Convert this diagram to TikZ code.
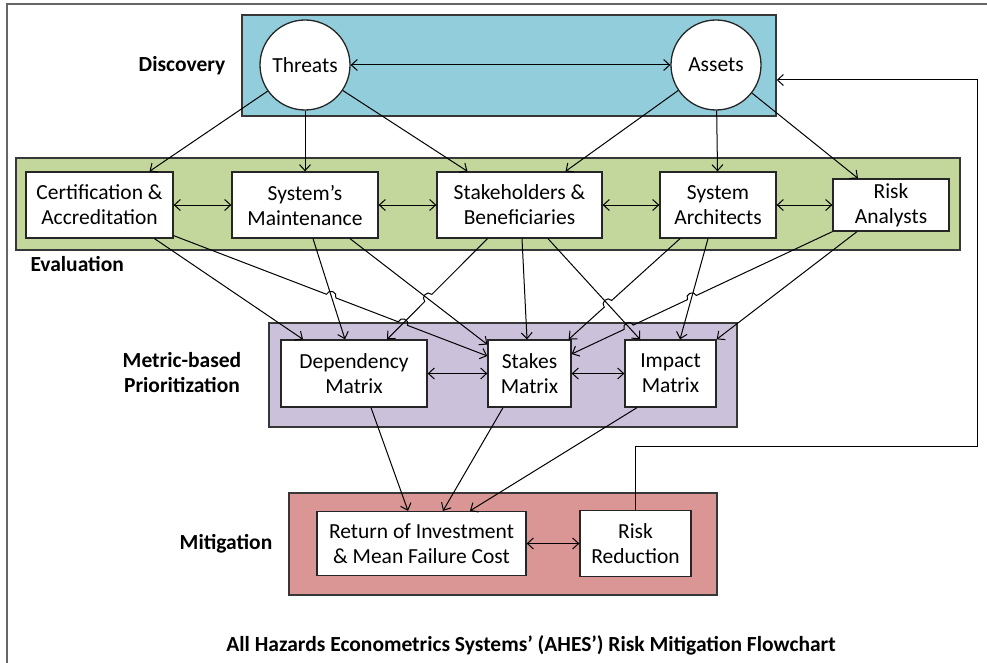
\documentclass[tikz,border=0pt]{standalone}
\usepackage{fontspec}
\setmainfont{Carlito}
\usetikzlibrary{arrows.meta, positioning, calc}
\definecolor{ahblue}{HTML}{92CDDC}
\definecolor{ahgreen}{HTML}{C3D69B}
\definecolor{ahpurple}{HTML}{CCC1DA}
\definecolor{ahred}{HTML}{D99694}
\definecolor{ahframe}{RGB}{55,55,55}

\begin{document}
\begin{tikzpicture}[
    x=1pt, y=-1pt,
    group/.style={draw=ahframe, line width=1.4pt, inner sep=0pt},
    box/.style={draw=black!85, line width=1.3pt, fill=white,
                align=center, inner sep=0pt,
                font=\fontsize{21.5}{25}\selectfont},
    ball/.style={circle, draw=black!85, line width=1.3pt, fill=white,
                minimum size=90pt, inner sep=0pt,
                font=\fontsize{21.5}{25}\selectfont},
    lab/.style={align=center, font=\fontsize{21.5}{25}\selectfont\bfseries},
    arr/.style={-{Straight Barb[length=6pt, width=11pt]}, line width=1pt},
    darr/.style={{Straight Barb[length=6pt, width=11pt]}-{Straight Barb[length=6pt, width=11pt]},
                line width=1pt},
    hopl/.style={bend left=90, looseness=1.6},
    hopr/.style={bend right=90, looseness=1.6},
  ]
    \useasboundingbox (0,0) rectangle (987,663);
    \draw[black!60, line width=2.5pt] (7,663) -- (7,4) -- (987,4);

    % Coloured stage frames
    \node[group, fill=ahblue, minimum width=534pt, minimum height=101pt] (disc) at (509,65.5) {};
    \node[group, fill=ahgreen, minimum width=944pt, minimum height=92pt] (eval) at (488,204) {};
    \node[group, fill=ahpurple, minimum width=468pt, minimum height=104pt] (metric) at (503,375) {};
    \node[group, fill=ahred, minimum width=428pt, minimum height=102pt] (mitig) at (503,544) {};

    % Stage labels
    \node[lab] (ldisc) at (182,66) {Discovery};
    \node[lab, anchor=west] (leval) at (27,264) {Evaluation};
    \node[lab] (lmetric) at (182,373) {Metric-based\\Prioritization};
    \node[lab] (lmitig) at (226,544) {Mitigation};

    % Discovery
    \node[ball] (thr) at (305,65) {Threats};
    \node[ball] (ast) at (716,65) {Assets};

    % Evaluation
    \node[box, minimum width=147pt, minimum height=66pt] (cert) at (99.5,205) {Certification \&\\Accreditation};
    \node[box, minimum width=146pt, minimum height=66pt] (maint) at (305,205) {System’s\\Maintenance};
    \node[box, minimum width=165pt, minimum height=66pt] (stake) at (519.5,205) {Stakeholders \&\\Beneficiaries};
    \node[box, minimum width=116pt, minimum height=66pt] (arch) at (718,205) {System\\Architects};
    \node[box, minimum width=116pt, minimum height=52pt] (risk) at (891,205) {Risk\\Analysts};

    % Metric-based prioritization
    \node[box, minimum width=146pt, minimum height=67pt] (dep) at (354,373.5) {Dependency\\Matrix};
    \node[box, minimum width=83pt, minimum height=67pt] (stm) at (529.5,373.5) {Stakes\\Matrix};
    \node[box, minimum width=91pt, minimum height=67pt] (imp) at (670.5,373.5) {Impact\\Matrix};

    % Mitigation
    \node[box, minimum width=209pt, minimum height=64pt] (roi) at (421.5,543.5) {Return of Investment\\\& Mean Failure Cost};
    \node[box, minimum width=111pt, minimum height=66pt] (rr) at (635.5,543.5) {Risk\\Reduction};

    % Title
    \node[lab] (title) at (531,645) {All Hazards Econometrics Systems’ (AHES’) Risk Mitigation Flowchart};

    % Discovery -> Evaluation
    \draw[darr] (thr) -- (ast);
    \draw[arr] (thr.215) -- ([xshift=50pt]cert.north);
    \draw[arr] (thr) -- (maint);
    \draw[arr] (thr.326) -- ([xshift=-52pt]stake.north);
    \draw[arr] (ast.214) -- ([xshift=46pt]stake.north);
    \draw[arr] (ast) -- (arch);
    \draw[arr] (ast.322) -- ([xshift=-33pt]risk.north);

    \draw[darr] (cert) -- (maint);
    \draw[darr] (maint) -- (stake);
    \draw[darr] (stake) -- (arch);
    \draw[darr] (arch) -- (risk);

    % Evaluation -> Metric (with line hops)
    \coordinate (c1) at ([yshift=3pt]cert.south east);
    \coordinate (s1) at ([yshift=17.5pt]stm.west);
    \coordinate (k1) at ([xshift=-32pt]stake.south);
    \coordinate (d1) at ([xshift=33pt]dep.north);
    \coordinate (a1) at ([xshift=-38pt]arch.south);
    \coordinate (s2) at ([xshift=-3pt]stm.north east);
    \coordinate (r1) at (risk.south west);
    \coordinate (s3) at ([yshift=19.5pt]stm.east);

    \draw[arr] ([xshift=55pt]cert.south) -- ([xshift=-51pt]dep.north);
    \draw[arr] (c1) -- ($(c1)!.502!(s1)!5pt!(c1)$) to[hopl] ($(c1)!.502!(s1)!5pt!(s1)$)
      -- ($(c1)!.731!(s1)!5pt!(c1)$) to[hopl] ($(c1)!.731!(s1)!5pt!(s1)$) -- (s1);
    \draw[arr] ([xshift=8pt]maint.south) -- ([xshift=-9pt]dep.north);
    \draw[arr] ([xshift=45pt]maint.south) -- ([yshift=29pt]stm.west);
    \draw[arr] (k1) -- ($(k1)!.589!(d1)!5pt!(k1)$) to[hopr] ($(k1)!.589!(d1)!5pt!(d1)$) -- (d1);
    \draw[arr] ([xshift=2.5pt]stake.south) -- ([xshift=-2.5pt]stm.north);
    \draw[arr] ([xshift=28.5pt]stake.south) -- ([xshift=-30.5pt]imp.north);
    \draw[arr] (a1) -- ($(a1)!.647!(s2)!5pt!(a1)$) to[hopr] ($(a1)!.647!(s2)!5pt!(s2)$) -- (s2);
    \draw[arr] ([xshift=-10pt]arch.south) -- ([xshift=9.5pt]imp.north);
    \draw[arr] (r1) -- ($(r1)!.539!(s3)!5pt!(r1)$) to[hopr] ($(r1)!.539!(s3)!5pt!(s3)$)
      -- ($(r1)!.781!(s3)!5pt!(r1)$) to[hopr] ($(r1)!.781!(s3)!5pt!(s3)$) -- (s3);
    \draw[arr] ([xshift=-34pt]risk.south) -- (imp.north east);

    \draw[darr] (dep) -- (stm);
    \draw[darr] (stm) -- (imp);

    % Metric -> Mitigation
    \draw[arr] ([xshift=17pt]dep.south) -- ([xshift=-13.5pt]roi.north);
    \draw[arr] ([xshift=-26.5pt]stm.south) -- ([xshift=21.5pt]roi.north);
    \draw[arr] ([xshift=-33.5pt]imp.south) -- ([xshift=48.5pt]roi.north);
    \draw[darr] (roi) -- (rr);

    % Feedback to discovery
    \coordinate (fb1) at (977,446);
    \coordinate (fb2) at (977,80);
    \draw[arr] (rr.north) |- (fb1) -- (fb2) -- (fb2 -| disc.east);
\end{tikzpicture}
\end{document}
